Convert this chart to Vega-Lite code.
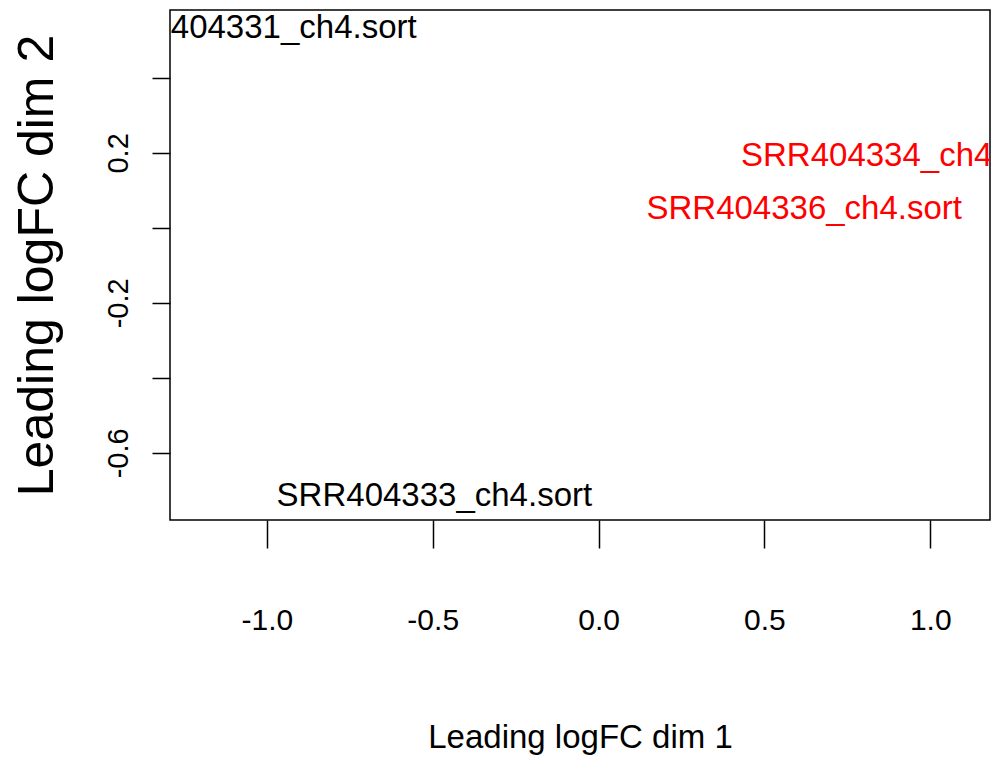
{
  "$schema": "https://vega.github.io/schema/vega-lite/v6.json",
  "width": 820,
  "height": 510,
  "autosize": {"type": "none"},
  "padding": {"left": 170, "top": 10, "right": 3, "bottom": 244},
  "background": "white",
  "config": {"view": {"stroke": "black", "strokeWidth": 1.5}},
  "data": {
    "values": [
      {"sample": "SRR404331_ch4.sort", "dim1": -1.024, "dim2": 0.533, "group": "A"},
      {"sample": "SRR404333_ch4.sort", "dim1": -0.495, "dim2": -0.715, "group": "A"},
      {"sample": "SRR404334_ch4.sort", "dim1": 0.905, "dim2": 0.192, "group": "B"},
      {"sample": "SRR404336_ch4.sort", "dim1": 0.62, "dim2": 0.051, "group": "B"}
    ]
  },
  "mark": {"type": "text", "clip": true, "fontSize": 33, "font": "Liberation Sans", "align": "center", "baseline": "middle"},
  "encoding": {
    "x": {
      "field": "dim1", "type": "quantitative",
      "scale": {"domain": [-1.292, 1.18], "nice": false, "zero": false},
      "axis": {
        "title": "Leading logFC dim 1",
        "values": [-1, -0.5, 0, 0.5, 1],
        "labelExpr": "datum.value < 0 ? '-' + format(-datum.value, '.1f') : format(datum.value, '.1f')",
        "grid": false, "domain": false,
        "tickSize": 28, "tickColor": "black", "tickWidth": 1.5,
        "labelFont": "Liberation Sans", "labelFontSize": 30, "labelColor": "black",
        "labelPadding": 57, "labelBaseline": "top", "labelFlush": false, "labelOverlap": false,
        "titleFont": "Liberation Sans", "titleFontSize": 33, "titleFontWeight": "normal", "titleColor": "black",
        "titlePadding": 86
      }
    },
    "y": {
      "field": "dim2", "type": "quantitative",
      "scale": {"domain": [-0.779, 0.581], "nice": false, "zero": false},
      "axis": {
        "title": "Leading logFC dim 2",
        "values": [-0.6, -0.4, -0.2, 0, 0.2, 0.4],
        "labelExpr": "abs(datum.value - 0.2) < 0.01 ? '0.2' : abs(datum.value + 0.2) < 0.01 ? '-0.2' : abs(datum.value + 0.6) < 0.01 ? '-0.6' : ''",
        "grid": false, "domain": false,
        "tickSize": 18, "tickColor": "black", "tickWidth": 1.5,
        "labelFont": "Liberation Sans", "labelFontSize": 29, "labelColor": "black",
        "labelAngle": 270, "labelAlign": "center", "labelBaseline": "alphabetic",
        "labelPadding": 25, "labelFlush": false, "labelOverlap": false,
        "titleFont": "Liberation Sans", "titleFontSize": 50, "titleFontWeight": "normal", "titleColor": "black",
        "titlePadding": 42
      }
    },
    "text": {"field": "sample"},
    "color": {
      "field": "group", "type": "nominal",
      "scale": {"domain": ["A", "B"], "range": ["black", "#ff0000"]},
      "legend": null
    }
  }
}
